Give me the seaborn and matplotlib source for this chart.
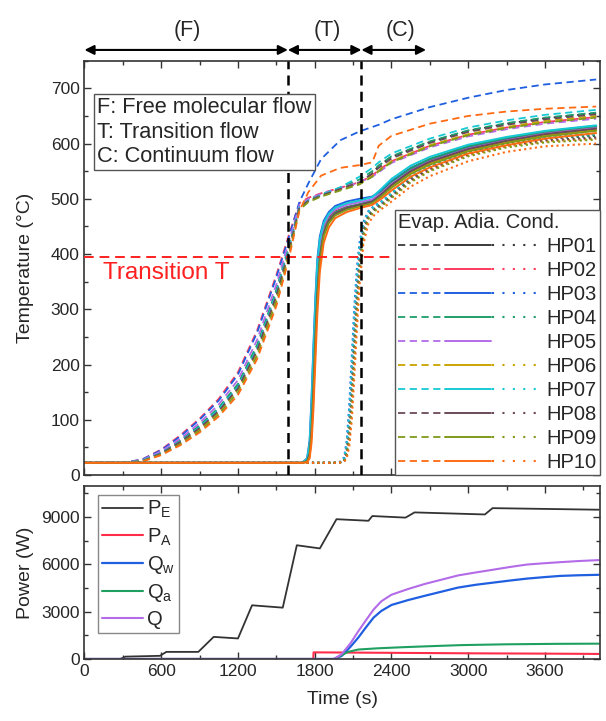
import matplotlib
matplotlib.use('Agg')
import matplotlib.pyplot as plt
import matplotlib.transforms as mtrans
from matplotlib.lines import Line2D
from matplotlib.legend_handler import HandlerTuple
from matplotlib.ticker import MultipleLocator
import seaborn as sns

# ---------------- data ----------------
hp_names = ['HP01', 'HP02', 'HP03', 'HP04', 'HP05', 'HP06', 'HP07', 'HP08', 'HP09', 'HP10']
hp_colors = ['#3a3a3a', '#ff3b5c', '#1f5fe0', '#1f9e6a', '#b36be8',
             '#c9a400', '#17c9d4', '#6b4a5a', '#7f9a1a', '#ff6a13']

t_evap = [0, 300, 450, 600, 750, 900, 1050, 1200, 1350, 1500, 1600, 1680, 1750, 1850,
          2000, 2150, 2250, 2300, 2400, 2700, 3000, 3300, 3600, 4000]
evap_hp01 = [22, 22, 26, 40, 62, 88, 120, 162, 232, 332, 414, 486, 498, 507, 518, 528, 546, 560, 576, 603, 623, 636, 646, 655]
evap_hp02 = [22, 22, 28, 46, 72, 102, 138, 186, 262, 362, 436, 492, 502, 510, 520, 530, 542, 552, 568, 596, 616, 629, 639, 648]
evap_hp03 = [22, 22, 28, 45, 70, 100, 135, 182, 258, 358, 432, 494, 528, 572, 606, 622, 630, 634, 644, 666, 683, 697, 707, 716]
evap_hp04 = [22, 22, 26, 41, 63, 90, 122, 165, 236, 336, 417, 487, 499, 508, 520, 535, 550, 560, 577, 604, 624, 637, 647, 656]
evap_hp05 = [22, 22, 27, 43, 66, 94, 128, 172, 245, 345, 424, 489, 500, 509, 520, 530, 540, 548, 565, 593, 613, 626, 636, 645]
evap_hp06 = [22, 22, 25, 38, 58, 83, 114, 155, 222, 320, 405, 482, 495, 505, 517, 528, 541, 551, 568, 597, 617, 630, 641, 650]
evap_hp07 = [22, 22, 26, 40, 61, 87, 119, 160, 230, 330, 412, 485, 497, 507, 521, 540, 556, 566, 582, 609, 629, 642, 652, 661]
evap_hp08 = [22, 22, 25, 39, 60, 85, 116, 157, 226, 325, 408, 484, 496, 506, 518, 530, 546, 556, 573, 601, 621, 634, 644, 653]
evap_hp09 = [22, 22, 25, 37, 56, 80, 110, 150, 216, 314, 400, 480, 494, 504, 515, 526, 540, 550, 566, 595, 615, 628, 638, 647]
evap_hp10 = [22, 22, 24, 36, 54, 77, 106, 145, 210, 306, 394, 478, 512, 542, 556, 561, 566, 596, 614, 636, 650, 658, 663, 667]

t_adia = [0, 1700, 1740, 1760, 1775, 1790, 1805, 1820, 1840, 1870, 1910, 1960, 2050, 2150,
          2250, 2320, 2400, 2550, 2700, 3000, 3300, 3600, 4000]
adia_hp01 = [22, 22, 26, 48, 110, 200, 290, 365, 415, 448, 466, 477, 485, 490, 496, 510, 528, 553, 570, 593, 608, 620, 630]
adia_hp02 = [22, 22, 25, 42, 95, 178, 268, 348, 405, 443, 464, 476, 484, 489, 495, 506, 522, 547, 564, 588, 603, 615, 625]
adia_hp03 = [22, 22, 30, 62, 140, 235, 320, 390, 432, 460, 476, 487, 495, 500, 504, 515, 532, 556, 572, 595, 610, 622, 632]
adia_hp04 = [22, 22, 25, 40, 88, 165, 255, 335, 398, 440, 462, 475, 484, 490, 497, 512, 530, 555, 572, 595, 610, 621, 631]
adia_hp05 = [22, 22, 27, 52, 120, 210, 300, 372, 420, 452, 470, 481, 489, 494, 499, 510, 527, 551, 568, 591, 606, 618, 628]
adia_hp06 = [22, 22, 24, 35, 75, 150, 240, 322, 390, 435, 458, 472, 482, 488, 494, 506, 522, 547, 564, 588, 603, 615, 625]
adia_hp07 = [22, 22, 29, 58, 132, 225, 312, 383, 427, 456, 473, 484, 492, 497, 503, 518, 536, 560, 576, 598, 612, 623, 633]
adia_hp08 = [22, 22, 25, 38, 82, 160, 250, 330, 395, 437, 460, 473, 483, 489, 495, 508, 525, 550, 567, 590, 605, 617, 627]
adia_hp09 = [22, 22, 24, 34, 70, 142, 232, 315, 385, 432, 456, 470, 480, 486, 492, 504, 520, 545, 562, 586, 601, 613, 623]
adia_hp10 = [22, 22, 23, 30, 58, 120, 205, 290, 368, 420, 448, 465, 476, 483, 489, 500, 515, 540, 557, 582, 597, 609, 619]

t_cond = [0, 1950, 2000, 2030, 2050, 2070, 2090, 2110, 2130, 2150, 2180, 2220, 2270, 2320,
          2400, 2550, 2700, 3000, 3300, 3600, 4000]
cond_hp01 = [22, 22, 23, 28, 50, 100, 180, 270, 345, 400, 448, 473, 485, 492, 507, 537, 557, 584, 600, 609, 614]
cond_hp02 = [22, 22, 23, 27, 45, 90, 165, 255, 335, 395, 445, 471, 484, 491, 505, 533, 552, 579, 595, 604, 609]
cond_hp03 = [22, 22, 24, 32, 62, 125, 215, 305, 375, 420, 458, 478, 488, 495, 510, 540, 560, 587, 603, 612, 617]
cond_hp04 = [22, 22, 23, 26, 40, 78, 148, 238, 318, 382, 440, 470, 483, 491, 507, 538, 558, 585, 601, 610, 615]
cond_hp05 = None  # no condenser trace for HP05
cond_hp06 = [22, 22, 23, 25, 36, 68, 130, 218, 300, 370, 434, 466, 480, 488, 503, 532, 552, 579, 595, 604, 609]
cond_hp07 = [22, 22, 24, 30, 56, 112, 198, 290, 362, 412, 454, 476, 487, 494, 510, 541, 561, 588, 604, 613, 618]
cond_hp08 = [22, 22, 23, 25, 38, 72, 138, 226, 308, 375, 437, 468, 481, 489, 504, 534, 554, 581, 597, 606, 611]
cond_hp09 = [22, 22, 23, 25, 34, 62, 120, 205, 290, 362, 430, 464, 478, 486, 501, 530, 550, 577, 593, 602, 607]
cond_hp10 = [22, 22, 23, 24, 30, 52, 100, 180, 265, 342, 418, 456, 472, 481, 495, 522, 541, 568, 585, 595, 600]

evap_all = [evap_hp01, evap_hp02, evap_hp03, evap_hp04, evap_hp05, evap_hp06, evap_hp07, evap_hp08, evap_hp09, evap_hp10]
adia_all = [adia_hp01, adia_hp02, adia_hp03, adia_hp04, adia_hp05, adia_hp06, adia_hp07, adia_hp08, adia_hp09, adia_hp10]
cond_all = [cond_hp01, cond_hp02, cond_hp03, cond_hp04, cond_hp05, cond_hp06, cond_hp07, cond_hp08, cond_hp09, cond_hp10]

# power panel
t_pe = [0, 280, 320, 590, 640, 890, 1010, 1200, 1310, 1550, 1660, 1840, 1970, 2220, 2250, 2510, 2580, 3130, 3190, 4020]
p_e = [0, 0, 150, 200, 450, 450, 1400, 1300, 3400, 3250, 7200, 7000, 8850, 8750, 9050, 8950, 9280, 9150, 9550, 9450]
t_pa = [0, 1789, 1791, 2000, 2400, 3000, 3600, 4020]
p_a = [0, 0, 420, 410, 390, 360, 340, 320]
t_q = [0, 1950, 2010, 2080, 2140, 2200, 2260, 2320, 2400, 2530, 2660, 2800, 2920, 3060, 3200, 3330, 3460, 3590, 3720, 3860, 4020]
q_w = [0, 0, 190, 780, 1350, 2000, 2620, 3040, 3420, 3730, 4000, 4280, 4520, 4700, 4840, 4970, 5090, 5180, 5260, 5300, 5330]
q_tot = [0, 0, 300, 1000, 1750, 2450, 3130, 3650, 4070, 4430, 4750, 5040, 5290, 5480, 5660, 5830, 5980, 6060, 6130, 6200, 6260]
t_qa = [0, 1950, 2000, 2060, 2140, 2300, 2500, 2700, 2950, 3300, 3700, 4020]
q_a = [0, 0, 200, 450, 600, 680, 750, 810, 880, 930, 960, 970]
power_labels = [r'P$_\mathrm{E}$', r'P$_\mathrm{A}$', r'Q$_\mathrm{w}$', r'Q$_\mathrm{a}$', 'Q']
power_colors = ['#333333', '#ff2d4a', '#1f5fe0', '#1fa060', '#b36be8']

region_bounds = [0, 1590, 2165, 2670]
region_labels = ['(F)', '(T)', '(C)']
region_label_x = [800, 1900, 2470]
transition_temp = 395

# ---------------- style ----------------
sns.set_style('ticks')
plt.rcParams['font.family'] = ['Liberation Sans', 'DejaVu Sans']
plt.rcParams['mathtext.fontset'] = 'custom'
plt.rcParams['mathtext.rm'] = 'Liberation Sans'
plt.rcParams['mathtext.it'] = 'Liberation Sans:italic'

fig = plt.figure(figsize=(6.06, 7.21), dpi=100)
ax1 = fig.add_axes([0.1394, 0.3412, 0.8507, 0.5746])
ax2 = fig.add_axes([0.1394, 0.0860, 0.8507, 0.2399])

ls_evap = (0, (4, 2.5))
ls_adia = '-'
ls_cond = (0, (1, 1.6))

for i in range(10):
    sns.lineplot(x=t_evap, y=evap_all[i], ax=ax1, color=hp_colors[i], linestyle=ls_evap, lw=1.3,
                 estimator=None, sort=False)
for i in range(10):
    if cond_all[i] is not None:
        sns.lineplot(x=t_cond, y=cond_all[i], ax=ax1, color=hp_colors[i], linestyle=ls_cond, lw=1.5,
                     estimator=None, sort=False)
for i in range(10):
    sns.lineplot(x=t_adia, y=adia_all[i], ax=ax1, color=hp_colors[i], linestyle=ls_adia, lw=1.4,
                 estimator=None, sort=False)

ax1.axvline(region_bounds[1], color='black', lw=1.8, ls=(0, (4, 2.5)), zorder=6)
ax1.axvline(region_bounds[2], color='black', lw=1.8, ls=(0, (4, 2.5)), zorder=6)
ax1.axhline(transition_temp, color='#ff2020', lw=1.4, ls=(0, (5, 3)), zorder=4)
ax1.text(144, 366, 'Transition T', color='#ff2020', fontsize=17.5, ha='left', va='center')

ax1.text(0.025, 0.913, 'F: Free molecular flow\nT: Transition flow\nC: Continuum flow',
         transform=ax1.transAxes, fontsize=15.7, ha='left', va='top', linespacing=1.24,
         bbox=dict(boxstyle='square,pad=0.14', fc='white', ec='#555555', lw=1.0), zorder=7)

trans = mtrans.blended_transform_factory(ax1.transData, ax1.transAxes)
for k in range(3):
    ax1.annotate('', xy=(region_bounds[k + 1], 1.026), xytext=(region_bounds[k], 1.026),
                 xycoords=trans, textcoords=trans, annotation_clip=False,
                 arrowprops=dict(arrowstyle='<|-|>', color='black', lw=1.5,
                                 shrinkA=0, shrinkB=0, mutation_scale=14))
    ax1.text(region_label_x[k], 1.074, region_labels[k], transform=trans,
             ha='center', va='center', fontsize=15.5)

handles = []
for i in range(10):
    c = hp_colors[i]
    h_e = Line2D([], [], color=c, ls=ls_evap, lw=1.3)
    h_a = Line2D([], [], color=c, ls='-', lw=1.4)
    if cond_all[i] is not None:
        h_c = Line2D([], [], color=c, ls=(0, (1, 4)), lw=1.5)
    else:
        h_c = Line2D([], [], color='none', ls='none')
    handles.append((h_e, h_a, h_c))
leg1 = ax1.legend(handles=handles, labels=hp_names, title='Evap. Adia. Cond.',
                  loc='lower right', borderaxespad=0, handler_map={tuple: HandlerTuple(ndivide=None, pad=0.05)},
                  handlelength=7.0, handletextpad=0.4, fontsize=14.5, title_fontsize=14.5,
                  frameon=True, fancybox=False, edgecolor='#555555', framealpha=1,
                  labelspacing=0.25, borderpad=0.15, alignment='left')
leg1.get_frame().set_linewidth(1.0)
leg1.set_zorder(10)

ax1.set_xlim(0, 4030)
ax1.set_ylim(0, 750)
ax1.xaxis.set_major_locator(MultipleLocator(600))
ax1.xaxis.set_minor_locator(MultipleLocator(300))
ax1.yaxis.set_major_locator(MultipleLocator(100))
ax1.yaxis.set_minor_locator(MultipleLocator(50))
ax1.tick_params(labelbottom=False)
ax1.set_xlabel('')
ax1.set_ylabel('Temperature (°C)', fontsize=14)

# power panel
sns.lineplot(x=t_pe, y=p_e, ax=ax2, color=power_colors[0], lw=1.3, estimator=None, sort=False)
sns.lineplot(x=t_pa, y=p_a, ax=ax2, color=power_colors[1], lw=1.5, estimator=None, sort=False)
sns.lineplot(x=t_q, y=q_w, ax=ax2, color=power_colors[2], lw=1.6, estimator=None, sort=False)
sns.lineplot(x=t_qa, y=q_a, ax=ax2, color=power_colors[3], lw=1.5, estimator=None, sort=False)
sns.lineplot(x=t_q, y=q_tot, ax=ax2, color=power_colors[4], lw=1.5, estimator=None, sort=False)
leg2 = ax2.legend(handles=list(ax2.get_lines()), labels=power_labels, loc='upper left',
                  bbox_to_anchor=(0.026, 0.948), borderaxespad=0, handlelength=2.05,
                  handletextpad=0.2, fontsize=14.5, labelspacing=0.3, frameon=True,
                  fancybox=False, edgecolor='#888888', framealpha=1, borderpad=0.2)
leg2.get_frame().set_linewidth(1.0)

ax2.set_xlim(0, 4030)
ax2.set_ylim(0, 10950)
ax2.xaxis.set_major_locator(MultipleLocator(600))
ax2.xaxis.set_minor_locator(MultipleLocator(300))
ax2.yaxis.set_major_locator(MultipleLocator(3000))
ax2.yaxis.set_minor_locator(MultipleLocator(1500))
ax2.set_xlabel('Time (s)', fontsize=14, labelpad=9)
ax2.set_ylabel('Power (W)', fontsize=14)

for ax in (ax1, ax2):
    ax.tick_params(which='both', direction='in', top=True, right=True, color='#333333', width=1.0)
    ax.tick_params(which='major', length=5, labelsize=12.5)
    ax.tick_params(which='minor', length=3)
    for s in ax.spines.values():
        s.set_linewidth(1.2)
        s.set_color('#333333')
    ax.yaxis.set_label_coords(-0.097, 0.5)

fig.savefig('out.png', dpi=100, facecolor='white')
